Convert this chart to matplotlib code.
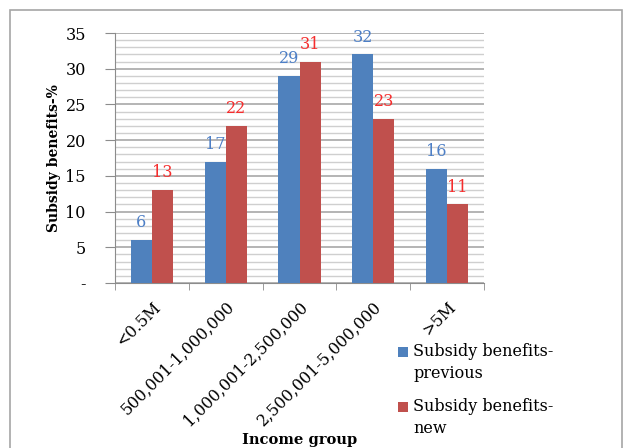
import matplotlib.pyplot as plt
from matplotlib.patches import Rectangle
import numpy as np

# income brackets and subsidy shares (%)
groups = ["<0.5M", "500,001-1,000,000", "1,000,001-2,500,000",
          "2,500,001-5,000,000", ">5M"]
previous = [6, 17, 29, 32, 16]
new = [13, 22, 31, 23, 11]
series_names = ["Subsidy benefits-\nprevious", "Subsidy benefits-\nnew"]

blue = "#4f81bd"
red = "#c0504d"
serif = "DejaVu Serif"

plt.rcParams["font.family"] = serif

W, H = 624, 448
fig = plt.figure(figsize=(W / 100, H / 100), dpi=100)
# chart frame
fig.patches.append(Rectangle((10 / W, -0.1), 612 / W, 1.1 - 10 / H,
                             transform=fig.transFigure, fill=False,
                             edgecolor="#a6a6a6", linewidth=1.2))

ax = fig.add_axes([115 / W, 1 - 283 / H, 369 / W, 250 / H])

x = np.arange(len(groups))
w = 0.285
b1 = ax.bar(x - w / 2, previous, w, color=blue, zorder=3)
b2 = ax.bar(x + w / 2, new, w, color=red, zorder=3)

for rect, v in zip(b1, previous):
    ax.annotate(str(v), (rect.get_x() + rect.get_width() / 2, v),
                xytext=(0, 12.5), textcoords="offset points", ha="center",
                va="center", color="#4d7fc6", fontsize=11.5)
for rect, v in zip(b2, new):
    ax.annotate(str(v), (rect.get_x() + rect.get_width() / 2, v),
                xytext=(0, 12.5), textcoords="offset points", ha="center",
                va="center", color="#f52d2d", fontsize=11.5)

ax.set_xlim(-0.5, len(groups) - 0.5)
ax.set_ylim(0, 35)
ax.set_yticks(range(0, 36, 5))
ax.set_yticklabels(["-"] + [str(v) for v in range(5, 36, 5)], fontsize=11.5)
ax.set_yticks(range(0, 36), minor=True)
ax.grid(axis="y", which="minor", color="#cfcfcf", linewidth=1.0, zorder=0)
ax.grid(axis="y", which="major", color="#a0a0a0", linewidth=1.1, zorder=0)
ax.tick_params(axis="y", which="major", length=7, color="#8c8c8c", pad=14)
ax.tick_params(axis="y", which="minor", length=0)

ax.set_xticks(x)
ax.set_xticklabels(groups, rotation=45, ha="right", rotation_mode="anchor",
                   fontsize=11.5)
ax.set_xticks(np.arange(-0.5, len(groups)), minor=True)
ax.tick_params(axis="x", which="major", length=0, pad=11)
ax.tick_params(axis="x", which="minor", length=5, color="#8c8c8c")

for s in ["top", "right"]:
    ax.spines[s].set_visible(False)
for s in ["left", "bottom"]:
    ax.spines[s].set_color("#8c8c8c")

ax.set_ylabel("Subsidy benefits-%", fontsize=10, fontweight="bold",
              labelpad=3)
fig.text(299.5 / W, 1 - 440 / H, "Income group", ha="center",
         va="center", fontsize=10.6, fontweight="bold")

# legend: swatch beside the first line of each two-line entry
for i, (name, col) in enumerate(zip(series_names, [blue, red])):
    top = 347 + i * 55
    fig.patches.append(Rectangle((398 / W, 1 - (top + 10) / H), 10 / W,
                                 10 / H, transform=fig.transFigure,
                                 facecolor=col, edgecolor="none"))
    fig.text(413 / W, 1 - (top - 4) / H, name, ha="left", va="top",
             fontsize=11.5, linespacing=1.35)

fig.savefig("out.png", dpi=100)
